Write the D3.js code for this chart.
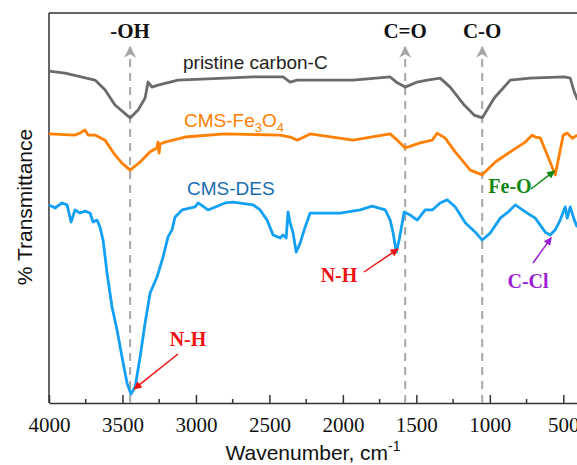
<!DOCTYPE html>
<html>
<head>
<meta charset="utf-8">
<script src="https://cdn.jsdelivr.net/npm/d3@7"></script>
<style>
  body { margin: 0; background: #fff; }
  svg { display: block; }
  .tick text { font-family: 'Liberation Serif', 'Times New Roman', serif; font-size: 21px; }
</style>
</head>
<body>
<svg id="chart" width="577" height="465"></svg>
<script>
// wavenumber (cm-1) / transmittance (a.u.)
const pristineWn = [4000, 3891, 3687, 3619, 3551, 3448, 3394, 3346, 3326, 3299, 3258, 3122, 2802, 2611, 2407, 2359, 2311, 2155, 1930, 1678, 1630, 1576, 1494, 1426, 1338, 1270, 1174, 1106, 1052, 970, 861, 725, 493, 453, 425, 402];
const pristineT = [85.1, 84.6, 82.8, 80.3, 76.4, 73.1, 75.1, 78.2, 82.3, 81.0, 81.5, 82.8, 83.3, 83.6, 83.6, 82.3, 82.8, 82.8, 82.8, 83.6, 82.1, 81.0, 82.3, 82.8, 83.3, 81.0, 76.4, 73.8, 73.1, 78.2, 82.8, 83.3, 83.6, 83.3, 79.7, 77.7];

const fe3o4Wn = [4000, 3823, 3789, 3755, 3734, 3687, 3619, 3551, 3503, 3448, 3380, 3312, 3265, 3258, 3251, 3244, 3210, 3074, 2802, 2427, 2359, 2311, 2223, 1930, 1678, 1630, 1576, 1474, 1392, 1358, 1304, 1236, 1133, 1052, 963, 861, 759, 711, 691, 657, 609, 555, 500, 473, 439, 405];
const fe3o4T = [69.0, 68.7, 69.2, 70.0, 68.7, 68.7, 67.4, 63.6, 61.5, 59.7, 61.8, 64.4, 65.4, 66.9, 64.1, 66.4, 66.9, 68.2, 69.0, 68.7, 68.2, 67.4, 69.0, 67.4, 69.0, 67.4, 65.4, 66.7, 67.4, 69.2, 67.9, 64.4, 59.7, 58.5, 61.8, 64.4, 66.9, 68.7, 68.2, 68.0, 63.6, 58.5, 68.7, 69.2, 67.9, 68.7];

const desWn = [4000, 3959, 3911, 3877, 3850, 3823, 3789, 3755, 3721, 3700, 3673, 3653, 3632, 3605, 3571, 3537, 3503, 3469, 3442, 3414, 3380, 3346, 3312, 3265, 3224, 3190, 3163, 3142, 3094, 3006, 2985, 2917, 2802, 2747, 2611, 2563, 2516, 2475, 2427, 2407, 2386, 2373, 2359, 2339, 2318, 2291, 2257, 2223, 2155, 2019, 1882, 1801, 1712, 1678, 1658, 1637, 1617, 1583, 1542, 1494, 1440, 1392, 1338, 1290, 1236, 1167, 1099, 1052, 997, 929, 875, 827, 745, 691, 623, 589, 555, 521, 487, 473, 453, 425, 405];
const desT = [50.8, 50.0, 51.3, 50.8, 46.4, 49.5, 48.7, 49.2, 48.7, 46.4, 46.9, 45.1, 41.8, 33.3, 24.6, 18.7, 11.8, 5.1, 2.3, 4.1, 11.8, 20.5, 28.2, 32.3, 37.4, 42.6, 44.4, 47.7, 49.5, 50.3, 51.3, 49.5, 51.3, 51.5, 50.8, 49.5, 46.9, 43.1, 42.3, 43.1, 42.3, 49.0, 46.2, 43.6, 38.7, 41.0, 45.1, 48.7, 48.7, 48.7, 49.5, 50.5, 49.5, 46.9, 43.6, 38.7, 41.8, 49.0, 48.2, 46.9, 49.5, 49.5, 51.3, 52.1, 50.3, 46.2, 43.8, 41.8, 43.6, 47.4, 49.0, 50.8, 48.7, 47.4, 43.8, 43.1, 44.4, 46.9, 50.3, 47.4, 50.3, 46.9, 45.1];

const xTicks = [4000, 3500, 3000, 2500, 2000, 1500, 1000, 500];
const bandWn = [3448, 1576, 1052];
const bandNames = ["-OH", "C=O", "C-O"];

const svg = d3.select("#chart");
const mLeft = 49, mTop = 13, mBottom = 403, mRight = 578;
const serif = "'Liberation Serif', 'Times New Roman', serif";
const sans = "'Liberation Sans', Arial, sans-serif";

const x = d3.scaleLinear().domain([4000, 400]).range([mLeft, mRight]);
const y = d3.scaleLinear().domain([0, 100]).range([mBottom, mTop]);

// frame
svg.append("line").attr("x1", mLeft).attr("x2", 577).attr("y1", mTop).attr("y2", mTop)
    .attr("stroke", "#333").attr("stroke-width", 1.5);
svg.append("line").attr("x1", mLeft).attr("x2", mLeft).attr("y1", mTop).attr("y2", mBottom)
    .attr("stroke", "#333").attr("stroke-width", 1.5);

// x axis, ticks pointing inward
const xAxis = svg.append("g")
    .attr("transform", "translate(0," + mBottom + ")")
    .call(d3.axisBottom(x).tickValues(xTicks).tickFormat(d3.format("d"))
        .tickSizeInner(-8).tickSizeOuter(0).tickPadding(14));
xAxis.attr("font-family", null).attr("font-size", null);
xAxis.select(".domain").attr("stroke", "#333").attr("stroke-width", 1.5);
xAxis.selectAll(".tick line").attr("stroke", "#333").attr("stroke-width", 1.5);
xAxis.selectAll(".tick text").attr("fill", "#111")
    .style("font-family", serif).style("font-size", "21px");

const minor = d3.range(3750, 400, -500);
svg.append("g").selectAll("line").data(minor).enter().append("line")
    .attr("x1", d => x(d)).attr("x2", d => x(d))
    .attr("y1", mBottom).attr("y2", mBottom - 4)
    .attr("stroke", "#333").attr("stroke-width", 1.5);

// marker defs
const defs = svg.append("defs");
defs.append("marker").attr("id", "grayHead")
    .attr("viewBox", "0 0 10 10").attr("refX", 9).attr("refY", 5)
    .attr("markerWidth", 16).attr("markerHeight", 12).attr("markerUnits", "userSpaceOnUse")
    .attr("orient", "auto")
    .append("path").attr("d", "M0,0 L10,5 L0,10 L3,5 Z").attr("fill", "#a6a6a6");

[["red", "#ee1111"], ["green", "#118811"], ["purple", "#9b1fd1"]].forEach(function(c) {
    defs.append("marker").attr("id", c[0] + "Head")
        .attr("viewBox", "0 0 10 10").attr("refX", 9).attr("refY", 5)
        .attr("markerWidth", 11).attr("markerHeight", 8).attr("markerUnits", "userSpaceOnUse")
        .attr("orient", "auto")
        .append("path").attr("d", "M0,0 L10,5 L0,10 Z").attr("fill", c[1]);
});

// dashed band guides
svg.append("g").selectAll("line").data(bandWn).enter().append("line")
    .attr("x1", d => x(d)).attr("x2", d => x(d))
    .attr("y1", mBottom).attr("y2", 47)
    .attr("stroke", "#a6a6a6").attr("stroke-width", 2)
    .attr("stroke-dasharray", "8,6")
    .attr("marker-end", "url(#grayHead)");

svg.append("g").selectAll("text").data(bandWn).enter().append("text")
    .attr("x", d => x(d)).attr("y", 38)
    .attr("text-anchor", "middle")
    .style("font-family", serif)
    .style("font-size", "21px").style("font-weight", "bold")
    .attr("fill", "#111")
    .text((d, i) => bandNames[i]);

// spectra
const line = d3.line().x(d => x(d[0])).y(d => y(d[1]));
const series = [
    { wn: pristineWn, t: pristineT, color: "#6b6b6b" },
    { wn: fe3o4Wn, t: fe3o4T, color: "#ff8000" },
    { wn: desWn, t: desT, color: "#12a0f5" }
];
series.forEach(function(s) {
    svg.append("path")
        .datum(d3.zip(s.wn, s.t))
        .attr("fill", "none")
        .attr("stroke", s.color)
        .attr("stroke-width", 2.8)
        .attr("stroke-linejoin", "round")
        .attr("d", line);
});

// series names
svg.append("text").attr("x", 183).attr("y", 69)
    .style("font-family", sans).style("font-size", "19px").attr("fill", "#222")
    .text("pristine carbon-C");

const feLabel = svg.append("text").attr("x", 184).attr("y", 127)
    .style("font-family", sans).style("font-size", "19px").attr("fill", "#ff8000");
feLabel.append("tspan").text("CMS-Fe");
feLabel.append("tspan").attr("dy", 5).style("font-size", "13px").text("3");
feLabel.append("tspan").attr("dy", -5).text("O");
feLabel.append("tspan").attr("dy", 5).style("font-size", "13px").text("4");

svg.append("text").attr("x", 187).attr("y", 195)
    .style("font-family", sans).style("font-size", "19px").attr("fill", "#1a6db0")
    .text("CMS-DES");

// assignments with arrows
const notes = [
    { text: "N-H", color: "#ee1111", head: "red", tx: 188, ty: 346, from: [178, 354], to: [3420, 3.6] },
    { text: "N-H", color: "#ee1111", head: "red", tx: 339, ty: 282, from: [364, 272], to: [1625, 39.5] },
    { text: "Fe-O", color: "#118811", head: "green", tx: 510, ty: 193, from: [531, 189], to: [560, 59.5] },
    { text: "C-Cl", color: "#9b1fd1", head: "purple", tx: 528, ty: 288, from: [533, 263], to: [582, 42.4] }
];
notes.forEach(function(n) {
    svg.append("line")
        .attr("x1", n.from[0]).attr("y1", n.from[1])
        .attr("x2", x(n.to[0])).attr("y2", y(n.to[1]))
        .attr("stroke", n.color).attr("stroke-width", 1.5)
        .attr("marker-end", "url(#" + n.head + "Head)");
    svg.append("text").attr("x", n.tx).attr("y", n.ty)
        .attr("text-anchor", "middle")
        .style("font-family", serif).style("font-size", "20px").style("font-weight", "bold")
        .attr("fill", n.color)
        .text(n.text);
});

// axis titles
svg.append("text")
    .attr("transform", "translate(32,207) rotate(-90)")
    .attr("text-anchor", "middle")
    .style("font-family", sans).style("font-size", "21px").attr("fill", "#111")
    .text("% Transmittance");

const xTitle = svg.append("text").attr("x", 313).attr("y", 460)
    .attr("text-anchor", "middle")
    .style("font-family", sans).style("font-size", "21px").attr("fill", "#111");
xTitle.append("tspan").text("Wavenumber, cm");
xTitle.append("tspan").attr("dy", -9).style("font-size", "14px").text("-1");
</script>
</body>
</html>
